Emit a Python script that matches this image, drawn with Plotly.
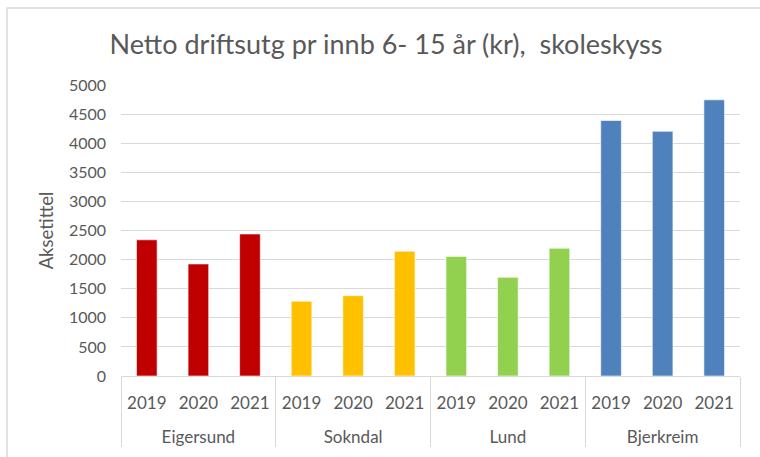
import plotly.graph_objects as go

municipalities = ["Eigersund", "Sokndal", "Lund", "Bjerkreim"]
years = ["2019", "2020", "2021"]
eigersund = [2340, 1925, 2440]
sokndal = [1285, 1380, 2145]
lund = [2055, 1695, 2195]
bjerkreim = [4390, 4205, 4745]
colors = ["#C00000", "#FFC000", "#92D050", "#4F81BD"]
y_ticks = [0, 500, 1000, 1500, 2000, 2500, 3000, 3500, 4000, 4500, 5000]

series = [eigersund, sokndal, lund, bjerkreim]
xg, xy, vals, cols = [], [], [], []
for m, s, c in zip(municipalities, series, colors):
    for yr, v in zip(years, s):
        xg.append("<br>" + m)   # leading break adds space below the year row
        xy.append(yr)
        vals.append(v)
        cols.append(c)

W, H = 760, 457
L, R, T, B = 121, 20, 85, 81
pw, ph = W - L - R, H - T - B

fig = go.Figure(go.Bar(
    x=[xg, xy], y=vals,
    marker=dict(color=cols, line=dict(color="rgba(255,255,255,0.6)", width=1)),
))

txt = "#595959"
fig.update_layout(
    width=W, height=H,
    margin=dict(l=L, r=R, t=T, b=B),
    paper_bgcolor="white", plot_bgcolor="white",
    bargap=0.6,
    showlegend=False,
    font=dict(family="Lato", color=txt, size=16),
    title=dict(text="Netto driftsutg pr innb 6- 15 år (kr),  skoleskyss",
               x=(386) / W, xanchor="center", y=1 - 45 / H, yanchor="middle",
               font=dict(size=27, color=txt, family="Lato")),
    xaxis=dict(
        type="multicategory",
        showline=True, linecolor="#d9d9d9", linewidth=1,
        showdividers=True, dividercolor="#d9d9d9", dividerwidth=1,
        tickfont=dict(size=17, color=txt),
        ticklabelstandoff=12,
        showgrid=False, ticks="",
    ),
    yaxis=dict(
        range=[0, 5000], tickvals=y_ticks,
        showgrid=True, gridcolor="#d9d9d9", gridwidth=1,
        zeroline=False, showline=False,
        ticklabelstandoff=14,
        tickfont=dict(size=16, color=txt),
        title=dict(text="Aksetittel", font=dict(size=18.5, color=txt), standoff=10),
    ),
    shapes=[dict(
        type="rect", xref="paper", yref="paper",
        x0=(7 - L) / pw, x1=(W + 20 - L) / pw,
        y0=(T + ph - (H + 20)) / ph, y1=(T + ph - 8) / ph,
        line=dict(color="#d9d9d9", width=1.5), fillcolor="rgba(0,0,0,0)",
        layer="below",
    )],
)

fig.write_html("out.html", config={"displayModeBar": False},
               post_script="document.body.style.margin='0';")
